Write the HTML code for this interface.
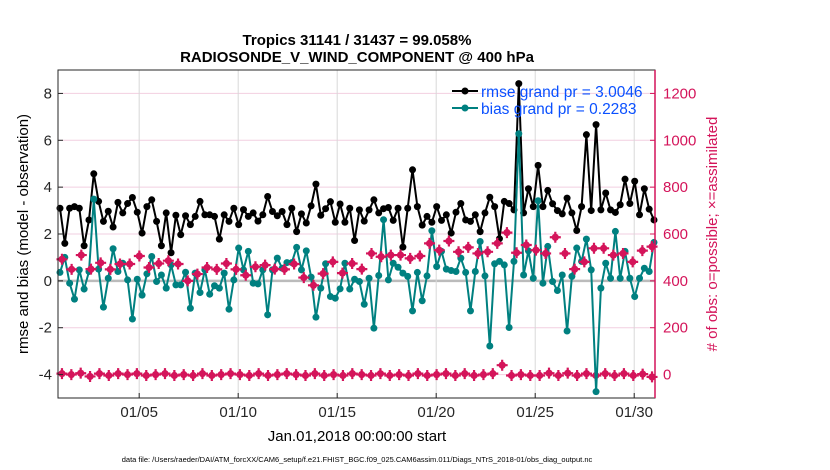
<!DOCTYPE html>
<html><head><meta charset="utf-8"><style>
body{margin:0;background:#fff;}
svg{display:block;font-family:"Liberation Sans",sans-serif;}
</style></head><body>
<svg id="chart" width="830" height="470">
<g id="grid"></g>
<g id="series"></g>
<g id="axes"></g>
<text x="357" y="45" text-anchor="middle" font-size="15" font-weight="bold">Tropics 31141 / 31437 = 99.058%</text>
<text x="357" y="62" text-anchor="middle" font-size="15" font-weight="bold">RADIOSONDE_V_WIND_COMPONENT @ 400 hPa</text>
<text transform="translate(28,234) rotate(-90)" text-anchor="middle" font-size="15">rmse and bias (model - observation)</text>
<text transform="translate(717,234) rotate(-90)" text-anchor="middle" font-size="15" fill="#d4145a"># of obs: o=possible; ×=assimilated</text>
<text x="357" y="441" text-anchor="middle" font-size="15">Jan.01,2018 00:00:00 start</text>
<text x="357" y="462" text-anchor="middle" font-size="7.5">data file: /Users/raeder/DAI/ATM_forcXX/CAM6_setup/f.e21.FHIST_BGC.f09_025.CAM6assim.011/Diags_NTrS_2018-01/obs_diag_output.nc</text>
<g>
<line x1="452" y1="91" x2="478" y2="91" stroke="#000" stroke-width="2"/>
<circle cx="465" cy="91" r="3.5" fill="#000"/>
<text x="481" y="97" font-size="15.5" fill="#0a50ff">rmse grand pr = 3.0046</text>
<line x1="452" y1="108" x2="478" y2="108" stroke="#008080" stroke-width="2"/>
<circle cx="465" cy="108" r="3.5" fill="#008080"/>
<text x="481" y="114" font-size="15.5" fill="#0a50ff">bias grand pr = 0.2283</text>
</g>
</svg>
<script>
const rmse=[3.1,1.6,3.1,3.17,3.1,1.5,2.6,4.57,3.39,2.54,2.97,2.3,3.35,2.9,3.3,3.56,2.93,2.04,3.17,3.46,2.54,1.5,2.9,1.2,2.8,1.97,2.78,2.4,2.75,3.39,2.82,2.82,2.75,1.78,2.82,2.54,3.1,2.4,3.04,2.75,2.9,
2.55,2.82,3.6,2.96,2.78,2.96,2.4,3.1,2.1,2.86,2.47,3.2,4.13,2.8,3.08,3.38,2.5,3.28,2.5,3.1,1.72,3.03,2.55,3.03,3.46,2.9,3.08,3.13,2.58,3.1,1.44,3.1,4.74,3.17,2.38,2.75,2.5,3.17,2.58,2.82,2.04,2.93,3.3,
2.6,2.54,2.82,2.1,2.9,3.57,3.17,1.8,3.39,3.3,3.03,8.42,2.9,3.93,3.17,4.93,3.17,3.86,3.29,3.0,2.86,3.53,2.9,2.15,3.17,6.24,3.0,6.67,3.03,3.75,3.03,2.92,3.25,4.34,3.3,4.25,2.82,3.93,3.06,2.6];
const bias=[0.36,1.0,-0.1,-0.78,0.47,-0.35,0.4,3.49,0.5,-1.12,0.11,1.37,0.4,0.75,0.04,-1.63,0.07,-0.61,0.3,1.04,-0.03,0.25,-0.31,0.68,-0.17,-0.17,0.37,-1.17,0.33,-0.5,0.47,-0.57,-0.21,-0.31,0.33,-1.21,0.04,1.4,0.47,1.26,-0.1,
-0.13,0.47,-1.45,0.47,0.97,0.54,0.78,0.78,1.43,0.47,1.28,0.16,-1.55,-0.31,0.73,-0.67,-0.74,-0.34,0.75,-0.35,0.07,-0.03,-1.0,0.11,-2.02,0.23,2.61,0.04,0.75,0.58,0.33,0.19,-1.28,0.36,-0.85,0.21,2.14,0.61,1.26,0.5,0.44,0.4,0.97,
0.36,-1.28,0.4,1.68,0.21,-2.78,0.73,0.83,0.68,-1.99,0.83,6.28,0.25,1.28,0.11,3.42,-0.1,1.47,-0.03,-0.41,0.25,-2.14,0.19,1.4,0.83,1.78,0.47,-4.73,-0.31,0.75,0.11,2.11,0.11,1.26,0.11,-0.67,0.11,0.54,0.4,1.64];
const obsPossible=[492,449,510,450,477,449,472,472,506,457,474,486,472,400,429,457,449,474,449,424,460,
467,450,449,472,414,381,431,481,433,474,450,517,503,510,510,496,506,560,531,570,524,
543,517,524,560,606,520,553,531,517,586,517,450,481,539,539,510,517,481,529,546];
const obsAssim=[4,0,6,-8,4,-4,4,0,4,-4,0,4,-4,0,-4,4,-4,0,4,0,-4,
4,-4,0,4,0,-4,4,-4,0,-4,4,0,-4,4,-4,0,-4,4,-4,0,4,
-4,4,-4,0,4,40,-4,0,-4,-4,6,-4,6,-4,4,-4,4,-4,4,-4,2,-10];
const xTickDays=[4,9,14,19,24,29];
const xTickLabels=["01/05","01/10","01/15","01/20","01/25","01/30"];
const yLeftTicks=[-4,-2,0,2,4,6,8];
const yRightTicks=[0,200,400,600,800,1000,1200];

const L=58,R=655,T=70,B=398;
const NS='http://www.w3.org/2000/svg';
const xS=d=>L+(d+0.1)/(30.15)*(R-L);
const yL=v=>B-(v+5)/14*(B-T);
const yR=v=>B-(v+100)/1400*(B-T);
function mk(tag,attrs,parent){const e=document.createElementNS(NS,tag);for(const k in attrs)e.setAttribute(k,attrs[k]);parent.appendChild(e);return e;}
const grid=document.getElementById('grid'),ser=document.getElementById('series'),ax=document.getElementById('axes');

yRightTicks.forEach(v=>{const e=mk('line',{x1:L,x2:R,y1:yR(v),y2:yR(v),stroke:v===400?'#bbbbbb':'#f2cfe0','stroke-width':v===400?2.5:1},grid);

});
xTickDays.forEach(d=>{const e=mk('line',{x1:xS(d),x2:xS(d),y1:T,y2:B,stroke:'#d8d8d8','stroke-width':1},grid);

});

function series(vals,ys,color,name){
 const step=30/(vals.length-1);
 const pts=vals.map((v,i)=>xS(i*step).toFixed(1)+','+ys(v).toFixed(1)).join(' ');
 const pl=mk('polyline',{points:pts,fill:'none',stroke:color,'stroke-width':2},ser);
 
 
 vals.forEach((v,i)=>{const c=mk('circle',{cx:xS(i*step),cy:ys(v),r:3.5,fill:color},ser);
 
 });
}
function obs(vals,name){
 const step=29.8/(vals.length-1);
 vals.forEach((v,i)=>{const x=xS(0.1+i*step),y=yR(v);
 const g=mk('g',{},ser);
 
 
 mk('circle',{cx:x,cy:y,r:3.6,fill:'#d4145a'},g);
 mk('path',{d:`M${x-5.5},${y}H${x+5.5}M${x},${y-5.5}V${y+5.5}`,stroke:'#d4145a','stroke-width':2.2},g);});
}
obs(obsAssim,'obs-assimilated');
series(rmse,yL,'#000','rmse');
series(bias,yL,'#008080','bias');
obs(obsPossible,'obs-possible');

const fr=mk('rect',{x:L,y:T,width:R-L,height:B-T,fill:'none',stroke:'#262626','stroke-width':1},ax);


const rs=mk('line',{x1:R,x2:R,y1:T,y2:B,stroke:'#d4145a','stroke-width':1.5},ax);


yLeftTicks.forEach(v=>{const y=yL(v);
 mk('line',{x1:L,x2:L+5,y1:y,y2:y,stroke:'#262626'},ax);
 const t=mk('text',{x:L-6,y:y+5,'text-anchor':'end','font-size':15,fill:'#262626'},ax);t.textContent=v;
 
 });
yRightTicks.forEach(v=>{const y=yR(v);
 mk('line',{x1:R-5,x2:R,y1:y,y2:y,stroke:'#d4145a'},ax);
 const t=mk('text',{x:R+8,y:y+5,'font-size':15,fill:'#d4145a'},ax);t.textContent=v;
 
 });
xTickDays.forEach((d,i)=>{const x=xS(d);
 mk('line',{x1:x,x2:x,y1:B-5,y2:B,stroke:'#262626'},ax);
 const t=mk('text',{x:x,y:B+19,'text-anchor':'middle','font-size':15,fill:'#262626'},ax);t.textContent=xTickLabels[i];
 
 });
</script>
</body></html>
